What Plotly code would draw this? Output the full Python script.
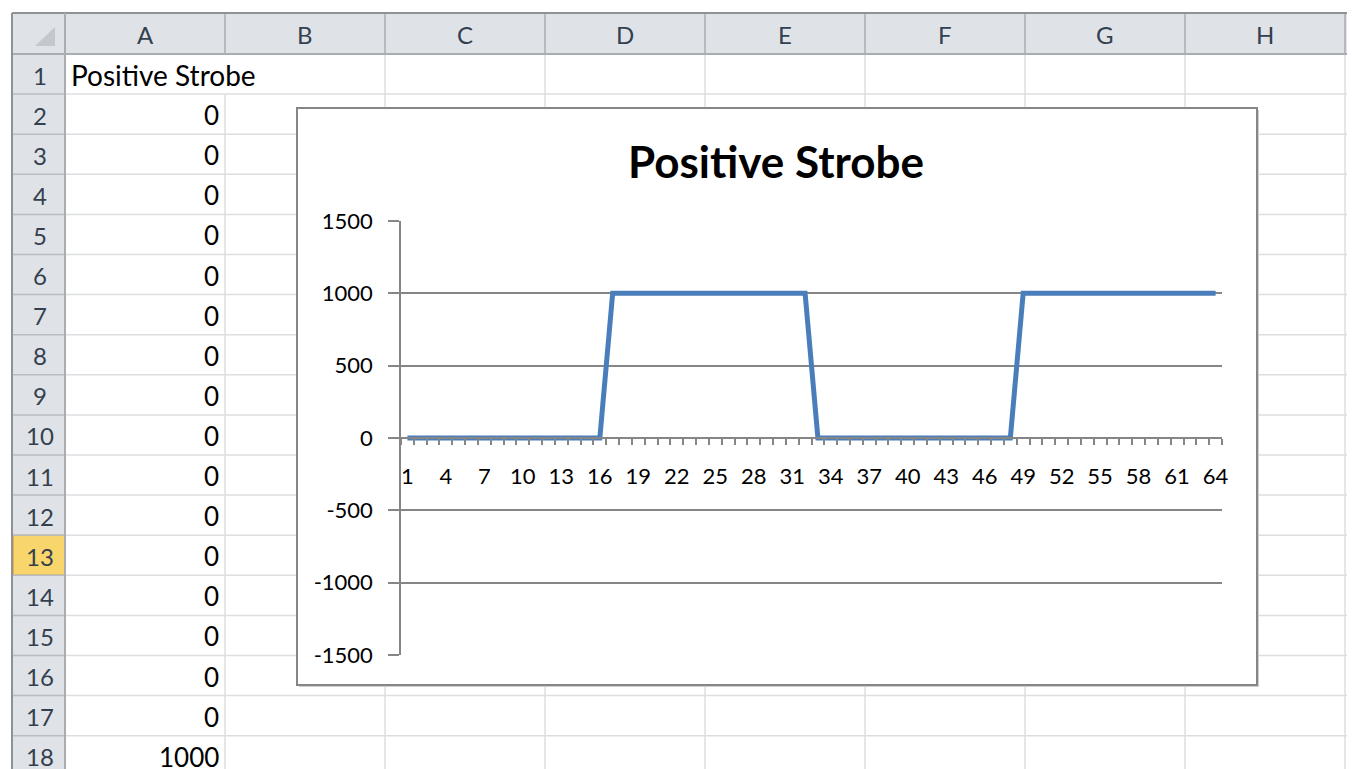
import plotly.graph_objects as go

# ---------------- data ----------------
categories = list(range(1, 65))
values = [0, 0, 0, 0, 0, 0, 0, 0, 0, 0, 0, 0, 0, 0, 0, 0,
          1000, 1000, 1000, 1000, 1000, 1000, 1000, 1000,
          1000, 1000, 1000, 1000, 1000, 1000, 1000, 1000,
          0, 0, 0, 0, 0, 0, 0, 0, 0, 0, 0, 0, 0, 0, 0, 0,
          1000, 1000, 1000, 1000, 1000, 1000, 1000, 1000,
          1000, 1000, 1000, 1000, 1000, 1000, 1000, 1000]
x_tick_labels = ["1", "4", "7", "10", "13", "16", "19", "22", "25", "28", "31",
                 "34", "37", "40", "43", "46", "49", "52", "55", "58", "61", "64"]
y_tick_values = [-1500, -1000, -500, 0, 500, 1000, 1500]
y_tick_labels = ["-1500", "-1000", "-500", "0", "500", "1000", "1500"]
column_letters = ["A", "B", "C", "D", "E", "F", "G", "H"]
row_numbers = list(range(1, 19))
column_a_header = "Positive Strobe"
chart_title = "Positive Strobe"
selected_row = 13

# ---------------- geometry / style (screen pixels) ----------------
W, H = 1355, 769
SHIFT = 8                      # page margin offset of the figure in the browser
X_END, Y_END = W + SHIFT, H + SHIFT
HDR_TOP, HDR_BOT = 13, 54
ROW_H = 40.1
ROWHDR_L, ROWHDR_R = 12, 65
COL_W = 160
CHART_BOX = (297, 108, 1257, 685)
PLOT_L, PLOT_R, PLOT_T, PLOT_B = 401, 1222, 221, 655

AXIS_COLOR = "#868686"
CELL_GRID = "#dcdee0"
HDR_FILL = "#dfe3e8"
HDR_SEP = "#a9adb2"
HDR_BORDER = "#8e9195"
LINE_COLOR = "#4a7ebb"
FONT = "Lato"

fig = go.Figure()

# placeholder trace so the background (spreadsheet) subplot exists and is drawn first
fig.add_trace(go.Scatter(x=[], y=[], xaxis="x", yaxis="y", showlegend=False, hoverinfo="skip"))

# chart series
fig.add_trace(go.Scatter(
    x=categories, y=values, xaxis="x2", yaxis="y2", mode="lines",
    line=dict(color=LINE_COLOR, width=5), showlegend=False, hoverinfo="x+y"))

shapes = []
annotations = []

def line(x0, y0, x1, y1, color, width=1):
    shapes.append(dict(type="line", xref="x", yref="y", x0=x0, y0=y0, x1=x1, y1=y1,
                       line=dict(color=color, width=width), layer="below"))

def rect(x0, y0, x1, y1, fill, color=None, width=0):
    shapes.append(dict(type="rect", xref="x", yref="y", x0=x0, y0=y0, x1=x1, y1=y1,
                       fillcolor=fill, line=dict(color=color or fill, width=width), layer="below"))

n_cols = len(column_letters)
row_top = lambda r: HDR_BOT + (r - 1) * ROW_H
col_left = lambda c: ROWHDR_R + c * COL_W

# cell grid: horizontal lines
for r in row_numbers:
    line(ROWHDR_R, row_top(r) + ROW_H, X_END, row_top(r) + ROW_H, CELL_GRID, 1.5)
# cell grid: vertical lines (row 1 text overflows the A|B border)
for c in range(1, n_cols + 1):
    y_start = row_top(2) if c == 1 else HDR_BOT
    line(col_left(c), y_start, col_left(c), Y_END, CELL_GRID, 1.5)

# faint outer line at the far left
line(6, HDR_TOP, 6, Y_END, "#e6e6e6", 1)

# header backgrounds
rect(ROWHDR_L, HDR_TOP, X_END, HDR_BOT, HDR_FILL)
rect(ROWHDR_L, HDR_BOT, ROWHDR_R, Y_END, HDR_FILL)
# selected row header
rect(ROWHDR_L + 1, row_top(selected_row), ROWHDR_R, row_top(selected_row) + ROW_H,
     "#f9d66c", "#e4a640", 1.5)
# row header separators
for r in row_numbers:
    line(ROWHDR_L, row_top(r) + ROW_H, ROWHDR_R, row_top(r) + ROW_H, "#b9bdc2", 1.5)
# column header separators
for c in range(0, n_cols + 1):
    line(col_left(c), HDR_TOP, col_left(c), HDR_BOT, HDR_SEP, 1.5)
# header borders
line(ROWHDR_L, HDR_TOP, X_END, HDR_TOP, HDR_BORDER, 2)
line(ROWHDR_L, HDR_BOT, X_END, HDR_BOT, HDR_SEP, 2)
line(ROWHDR_L, HDR_TOP, ROWHDR_L, Y_END, HDR_BORDER, 2)
line(ROWHDR_R, HDR_TOP, ROWHDR_R, Y_END, HDR_SEP, 2)
# corner triangle
shapes.append(dict(type="path", xref="x", yref="y", path="M 55,27 L 55,46 L 35,46 Z",
                   fillcolor="#c4c8cc", line=dict(width=0), layer="below"))

# chart box (white, covers the grid)
bx0, by0, bx1, by1 = CHART_BOX
shapes.append(dict(type="rect", xref="x", yref="y", x0=bx0 + 2, y0=by0 + 2, x1=bx1 + 2, y1=by1 + 2,
                   fillcolor="#d0d0d0", line=dict(width=0), layer="below"))
rect(bx0, by0, bx1, by1, "#ffffff", AXIS_COLOR, 2)

# header texts
for i, letter in enumerate(column_letters):
    annotations.append(dict(x=col_left(i) + COL_W / 2, y=(HDR_TOP + HDR_BOT) / 2 + 1, xref="x", yref="y",
                            text=letter, showarrow=False,
                            font=dict(family=FONT, size=24, color="#34404e")))
for r in row_numbers:
    annotations.append(dict(x=(ROWHDR_L + ROWHDR_R) / 2 + 1, y=row_top(r) + ROW_H / 2 + 1, xref="x", yref="y",
                            text=str(r), showarrow=False,
                            font=dict(family=FONT, size=24, color="#34404e")))
# column A contents
annotations.append(dict(x=col_left(0) + 4, y=row_top(1) + ROW_H / 2 + 1, xref="x", yref="y",
                        text=column_a_header, showarrow=False, xanchor="left",
                        font=dict(family=FONT, size=28, color="#000000")))
for r in row_numbers[1:]:
    v = values[r - 2]
    annotations.append(dict(x=col_left(1) - 4, y=row_top(r) + ROW_H / 2 + 1, xref="x", yref="y",
                            text=str(v), showarrow=False, xanchor="right",
                            font=dict(family=FONT, size=26, color="#000000")))

# chart title
annotations.append(dict(x=(bx0 + bx1) / 2 - 1, y=161, xref="x", yref="y", text="<b>%s</b>" % chart_title,
                        showarrow=False, font=dict(family=FONT, size=44, color="#000000")))

# ---------------- axes ----------------
y_min, y_max = y_tick_values[0], y_tick_values[-1]
x_dom = [(PLOT_L - SHIFT) / W, (PLOT_R - SHIFT) / W]
y_dom = [(H + SHIFT - PLOT_B) / H, (H + SHIFT - PLOT_T) / H]
zero_pos = y_dom[0] + (0 - y_min) / (y_max - y_min) * (y_dom[1] - y_dom[0])
cat_bounds = [c - 0.5 for c in categories] + [categories[-1] + 0.5]

fig.update_layout(
    width=W, height=H,
    margin=dict(l=0, r=0, t=0, b=0, pad=0, autoexpand=False),
    paper_bgcolor="#ffffff", plot_bgcolor="#ffffff",
    showlegend=False,
    shapes=shapes, annotations=annotations,
    xaxis=dict(domain=[0, 1], range=[SHIFT, X_END], visible=False, fixedrange=True, automargin=False),
    yaxis=dict(domain=[0, 1], range=[Y_END, SHIFT], visible=False, fixedrange=True, automargin=False),
    xaxis2=dict(
        domain=x_dom, range=[cat_bounds[0], cat_bounds[-1]], anchor="free", position=zero_pos,
        tickmode="array", tickvals=[int(t) for t in x_tick_labels], ticktext=x_tick_labels,
        ticks="", showline=True, linecolor=AXIS_COLOR, linewidth=1.5,
        showgrid=False, zeroline=False, ticklabelstandoff=19, automargin=False,
        tickfont=dict(family=FONT, size=22, color="#000000"),
        minor=dict(tickmode="array", tickvals=cat_bounds, ticks="outside", ticklen=6,
                   tickcolor=AXIS_COLOR, tickwidth=1.5, showgrid=False),
    ),
    yaxis2=dict(
        domain=y_dom, range=[y_min, y_max], anchor="x2",
        tickmode="array", tickvals=y_tick_values, ticktext=y_tick_labels,
        ticks="outside", ticklen=11, tickcolor=AXIS_COLOR, tickwidth=1.5,
        showline=True, linecolor=AXIS_COLOR, linewidth=1.5, automargin=False,
        showgrid=True, gridcolor=AXIS_COLOR, gridwidth=1.5, zeroline=False,
        ticklabelstandoff=11,
        tickfont=dict(family=FONT, size=22, color="#000000"),
    ),
)

fig.write_html("out.html")
